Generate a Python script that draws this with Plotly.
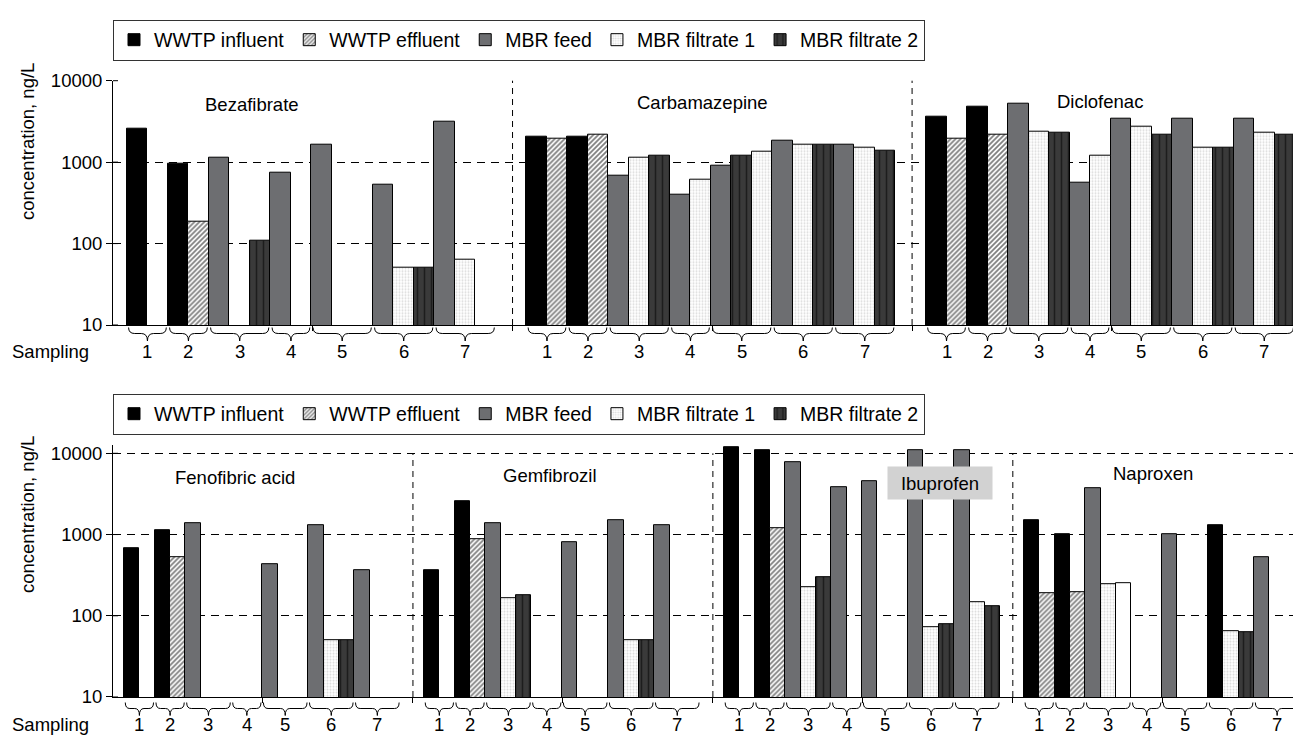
import math
import plotly.graph_objects as go

# ---------------- DATA ----------------
SERIES_NAMES = {
    "IN": "WWTP influent",
    "EF": "WWTP effluent",
    "FE": "MBR feed",
    "F1": "MBR filtrate 1",
    "F2": "MBR filtrate 2",
}
SERIES_ORDER = ["IN", "EF", "FE", "F1", "F2"]
SAMPLING_LABELS = ["1", "2", "3", "4", "5", "6", "7"]
Y_TICK_VALUES = [10, 100, 1000, 10000]
Y_TICK_LABELS = ["10", "100", "1000", "10000"]

# series measured in each sampling campaign (slot order inside each group)
STD_SERIES = [("IN", "EF"), ("IN", "EF"), ("FE", "F1", "F2"), ("FE", "F1"),
              ("FE", "F1", "F2"), ("FE", "F1", "F2"), ("FE", "F1", "F2")]
CARBAMAZEPINE_SERIES = [("IN", "EF"), ("IN", "EF"), ("FE", "F1", "F2"), ("FE", "F1"),
                        ("FE", "F2", "F1"), ("FE", "F1", "F2"), ("FE", "F1", "F2")]
NAPROXEN_SERIES = [("IN", "EF"), ("IN", "EF"), ("FE", "F1", "F2"), ("FE", "F1"),
                   ("FE", "F1", "F2"), ("IN", "F1", "F2"), ("FE", "F1", "F2")]

# concentrations, ng/L (None = not shown)
bezafibrate = [[2570, None], [953, 188], [1120, None, 110], [738, None],
               [1620, None, None], [532, 50, 50], [3130, 64, None]]
carbamazepine = [[2030, 1920], [2030, 2190], [686, 1120, 1210], [401, 606],
                 [910, 1210, 1330], [1850, 1620, 1620], [1620, 1500, 1380]]
diclofenac = [[3575, 1920], [4790, 2190], [5210, 2380, 2290], [552, 1210],
              [3410, 2750, 2190], [3410, 1500, 1500], [3410, 2290, 2190]]
fenofibric_acid = [[687, None], [1135, 533], [1387, None, None], [None, None],
                   [433, None, None], [1321, 50, 50], [366, None, None]]
gemfibrozil = [[366, None], [2590, 881], [1375, 167, 181], [None, None],
               [802, None, None], [1510, 50, 50], [1321, None, None]]
ibuprofen = [[12060, None], [10980, 1214], [7880, 224, 300], [3880, None],
             [4560, None, None], [10980, 72, 79], [10980, 146, 132]]
naproxen = [[1510, 189], [1000, 196], [3740, 244, 253], [None, None],
            [1000, None, None], [1321, 64, 62.5], [533, None, None]]

TOP_COMPOUNDS = [("Bezafibrate", bezafibrate, STD_SERIES),
                 ("Carbamazepine", carbamazepine, CARBAMAZEPINE_SERIES),
                 ("Diclofenac", diclofenac, STD_SERIES)]
BOTTOM_COMPOUNDS = [("Fenofibric acid", fenofibric_acid, STD_SERIES),
                    ("Gemfibrozil", gemfibrozil, STD_SERIES),
                    ("Ibuprofen", ibuprofen, STD_SERIES),
                    ("Naproxen", naproxen, NAPROXEN_SERIES)]

# ---------------- STYLE / LAYOUT ----------------
PAGE_W, PAGE_H = 1301, 736
BODY = 8                      # default page margin around the figure
W, H = PAGE_W - BODY, PAGE_H - BODY
ML = 113 - BODY               # plot area starts at page x = 113
PW = W - ML
FONT = "Liberation Sans, Arial, Helvetica, sans-serif"
FS = 18.5
LFS = 19.5

STYLE = {
    "IN": dict(color="#000000"),
    "EF": dict(color="#ffffff", pattern=dict(shape="/", fgcolor="#000000", bgcolor="#ffffff",
                                             size=3.5, solidity=0.5)),
    "FE": dict(color="#6d6e71"),
    "F1": dict(color="#ffffff", pattern=dict(shape=".", fgcolor="#b5b5b5", bgcolor="#ffffff",
                                             size=3, solidity=0.35)),
    "F2": dict(color="#3a3a3a", pattern=dict(shape="|", fgcolor="#000000", bgcolor="#3a3a3a",
                                             size=7, solidity=0.22)),
}
PLAIN_WHITE = dict(color="#ffffff")
STYLE_OVERRIDE = {("Naproxen", 2, 2): PLAIN_WHITE}


def px_x(p):
    """page pixel x -> paper fraction"""
    return (p - BODY - ML) / PW


def px_y(p):
    """page pixel y -> paper fraction"""
    return (H - (p - BODY)) / H


ROWS = [
    dict(compounds=TOP_COMPOUNDS, xa="x", ya="y", legend="legend", slot_px=20.5, panel=19.49,
         off=0.68, yrange=[1, 4], y10=325.0, y10000=80.7,
         brace=(327.5, 333.5, 341.0), numy=351, sampling_y=351, title_y=142, legend_top=19.5,
         labels={"Bezafibrate": (252, 105), "Carbamazepine": (702, 103), "Diclofenac": (1100, 101)}),
    dict(compounds=BOTTOM_COMPOUNDS, xa="x2", ya="y2", legend="legend2", slot_px=15.35, panel=19.54,
         off=0.72, yrange=[1, 4.1], y10=697.0, y10000=453.3,
         brace=(702.5, 708.5, 715.5), numy=724.5, sampling_y=724.5, title_y=515, legend_top=393.5,
         labels={"Fenofibric acid": (235, 478), "Gemfibrozil": (550, 476),
                 "Ibuprofen": (940, 483), "Naproxen": (1153, 474)}),
]

fig = go.Figure()
shapes = []
annotations = []
legend_done = {"legend": set(), "legend2": set()}
layout_axes = {}
legend_common = dict(orientation="h", x=0, xanchor="left", yanchor="top", bgcolor="#ffffff",
                     bordercolor="#333333", borderwidth=1,
                     font=dict(size=LFS, color="#000000", family=FONT), traceorder="normal")
legends = {}

for r, row in enumerate(ROWS):
    P, off = row["panel"], row["off"]
    dec = (row["y10"] - row["y10000"]) / 3.0
    ytop_px = row["y10000"] - (row["yrange"][1] - 4) * dec
    ydom = [px_y(row["y10"]), px_y(ytop_px)]
    xrange_ = [0, PW / row["slot_px"]]
    r0, r1 = row["yrange"]
    frac10000 = (4 - r0) / (r1 - r0)

    for p, (cname, values, series) in enumerate(row["compounds"]):
        base = p * P + off
        xs = {k: [] for k in SERIES_ORDER}
        ys = {k: [] for k in SERIES_ORDER}
        extra = []
        slot = 0
        for g, (grp_vals, grp_ser) in enumerate(zip(values, series)):
            start = slot
            for j, (v, s) in enumerate(zip(grp_vals, grp_ser)):
                xc = base + slot + 0.5
                if v is not None:
                    if (cname, g, j) in STYLE_OVERRIDE:
                        extra.append((xc, v, STYLE_OVERRIDE[(cname, g, j)]))
                    else:
                        xs[s].append(xc)
                        ys[s].append(v)
                slot += 1
            # brace under sampling group
            x0 = base + start + 0.08
            x1 = base + slot - 0.08
            xm = (x0 + x1) / 2
            c = 0.3
            yt, yh, yb = (px_y(v) for v in row["brace"])
            path = (f"M {x0},{yt} Q {x0},{yh} {x0 + c},{yh} L {xm - c},{yh} "
                    f"Q {xm},{yh} {xm},{yb} Q {xm},{yh} {xm + c},{yh} "
                    f"L {x1 - c},{yh} Q {x1},{yh} {x1},{yt}")
            shapes.append(dict(type="path", path=path, xref=row["xa"], yref="paper",
                               line=dict(color="#000000", width=1)))
            annotations.append(dict(x=xm, y=px_y(row["numy"]), xref=row["xa"], yref="paper",
                                    text=SAMPLING_LABELS[g], showarrow=False,
                                    font=dict(size=FS, color="#000000", family=FONT),
                                    xanchor="center", yanchor="middle"))
        for s in SERIES_ORDER:
            st = STYLE[s]
            show = s not in legend_done[row["legend"]]
            if not xs[s] and not show:
                continue
            legend_done[row["legend"]].add(s)
            marker = dict(color=st["color"], line=dict(color="#000000", width=1))
            if "pattern" in st:
                marker["pattern"] = st["pattern"]
            fig.add_trace(go.Bar(x=xs[s], y=ys[s], width=1.0, name=SERIES_NAMES[s],
                                 marker=marker, xaxis=row["xa"], yaxis=row["ya"],
                                 legend=row["legend"], showlegend=show,
                                 hoverinfo="x+y+name"))
        for xc, v, st in extra:
            fig.add_trace(go.Bar(x=[xc], y=[v], width=1.0, name="", showlegend=False,
                                 marker=dict(color=st["color"], line=dict(color="#000000", width=1)),
                                 xaxis=row["xa"], yaxis=row["ya"]))
        # compound label
        lx, ly = row["labels"][cname]
        ann = dict(x=px_x(lx), y=px_y(ly), xref="paper", yref="paper", text=cname,
                   showarrow=False, font=dict(size=FS, color="#000000", family=FONT),
                   xanchor="center", yanchor="middle")
        if cname == "Ibuprofen":
            ann.update(bgcolor="#d2d2d2", width=102, height=30)
        annotations.append(ann)
        # panel separators
        if p > 0:
            shapes.append(dict(type="line", xref=row["xa"], yref=f"{row['ya']} domain",
                               x0=p * P, x1=p * P, y0=0, y1=frac10000,
                               line=dict(color="#000000", width=1, dash="6px,5px")))

    # inner half of the crossing y ticks
    for tvv in Y_TICK_VALUES:
        fy = (math.log10(tvv) - r0) / (r1 - r0)
        shapes.append(dict(type="line", xref="paper", yref=f"{row['ya']} domain",
                           x0=0, x1=5 / PW, y0=fy, y1=fy,
                           line=dict(color="#000000", width=1)))

    n = len(row["compounds"])
    tv = [p * P for p in range(1, n)] + [p * P + P / 2 for p in range(n)]
    xkey = "xaxis" if r == 0 else "xaxis2"
    ykey = "yaxis" if r == 0 else "yaxis2"
    layout_axes[xkey] = dict(domain=[0, 1], range=xrange_, anchor=row["ya"], showline=True,
                             linecolor="#000000", linewidth=1, tickvals=tv, ticks="outside",
                             ticklen=5, tickcolor="#000000", showticklabels=False,
                             showgrid=False, zeroline=False, fixedrange=True)
    layout_axes[ykey] = dict(domain=ydom, type="log", range=row["yrange"], anchor=row["xa"],
                             tickvals=Y_TICK_VALUES, ticktext=Y_TICK_LABELS, ticks="outside",
                             ticklen=6, tickcolor="#000000", showline=True, linecolor="#000000",
                             linewidth=1, showgrid=True, gridcolor="#000000", gridwidth=1,
                             griddash="8px,6px", zeroline=False,
                             tickfont=dict(size=FS, color="#000000", family=FONT))
    annotations.append(dict(x=px_x(10), y=px_y(row["sampling_y"]), xref="paper", yref="paper",
                            text="Sampling", showarrow=False, xanchor="left", yanchor="middle",
                            font=dict(size=FS, color="#000000", family=FONT)))
    annotations.append(dict(x=px_x(27), y=px_y(row["title_y"]), xref="paper", yref="paper",
                            text="concentration, ng/L", showarrow=False, textangle=-90,
                            xanchor="center", yanchor="middle",
                            font=dict(size=FS, color="#000000", family=FONT)))
    legends[row["legend"]] = dict(y=px_y(row["legend_top"]), **legend_common)

fig.update_layout(
    width=W, height=H,
    margin=dict(l=ML, r=0, t=0, b=0, autoexpand=False),
    paper_bgcolor="#ffffff", plot_bgcolor="#ffffff",
    barmode="overlay", bargap=0,
    font=dict(family=FONT, size=FS, color="#000000"),
    shapes=shapes, annotations=annotations,
    **legends,
    **layout_axes,
)

fig.write_html("out.html")
